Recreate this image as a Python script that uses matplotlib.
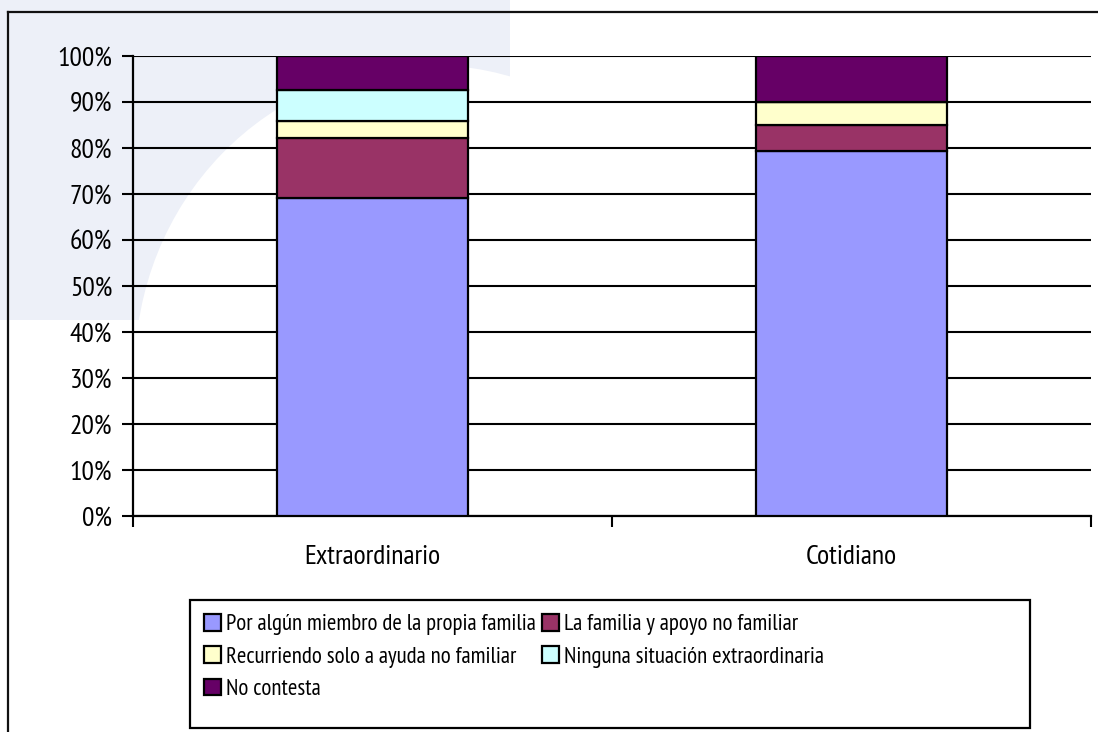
import matplotlib.pyplot as plt
import numpy as np
from matplotlib.patches import FancyBboxPatch, Ellipse, Rectangle
from matplotlib.lines import Line2D

plt.rcParams['font.family'] = ['PT Sans Narrow', 'Archivo Narrow', 'Liberation Sans', 'DejaVu Sans']

# Datos
categorias = ['Extraordinario', 'Cotidiano']
series = ['Por algún miembro de la propia familia',
          'La familia y apoyo no familiar',
          'Recurriendo solo a ayuda no familiar',
          'Ninguna situación extraordinaria',
          'No contesta']
propia_familia = [69.1, 79.3]
familia_y_apoyo = [13.0, 5.8]
solo_no_familiar = [3.7, 4.8]
ninguna = [6.8, 0.0]
no_contesta = [7.4, 10.1]
colores = ['#9999FF', '#993366', '#FFFFCC', '#CCFFFF', '#660066']
ticks_y = [0, 10, 20, 30, 40, 50, 60, 70, 80, 90, 100]

valores = [propia_familia, familia_y_apoyo, solo_no_familiar, ninguna, no_contesta]

W, H = 1098, 732
fig = plt.figure(figsize=(W / 100, H / 100), dpi=100)
fig.patch.set_facecolor('white')

# Conversion de pixeles a coordenadas de figura
def px(x, y):
    return x / W, 1 - y / H

# Marca de agua suave de fondo
tinte = '#EDF0F8'
fig.patches.append(FancyBboxPatch(px(-40, 320), 550 / W, 390 / H, boxstyle='round,pad=0,rounding_size=0.04',
                                  transform=fig.transFigure, facecolor=tinte, edgecolor='none', zorder=-10))
fig.patches.append(Ellipse(px(430, 370), 590 / W, 610 / H, transform=fig.transFigure,
                           facecolor='white', edgecolor='none', zorder=-9))

# Marco exterior (solo izquierda y arriba visibles)
fig.add_artist(Line2D([8 / W, 8 / W], [0, 1 - 12 / H], transform=fig.transFigure, color='#111111', lw=1.6))
fig.add_artist(Line2D([8 / W, 1], [1 - 12 / H, 1 - 12 / H], transform=fig.transFigure, color='#111111', lw=1.6))

ax = fig.add_axes([133 / W, 1 - 516 / H, (1091 - 133) / W, (516 - 56) / H])
ax.patch.set_alpha(0)

x = np.arange(len(categorias))
base = np.zeros(len(categorias))
handles = []
for nombre, vals, color in zip(series, valores, colores):
    b = ax.bar(x, vals, width=0.4, bottom=base, color=color, edgecolor='black', linewidth=1.6, label=nombre, zorder=3)
    handles.append(b)
    base += np.array(vals)

ax.set_xlim(-0.5, 1.5)
ax.set_ylim(0, 100)
ax.set_yticks(ticks_y)
ax.set_yticklabels([f'{t}%' for t in ticks_y])
ax.yaxis.grid(True, color='black', linewidth=1.5, zorder=0)
ax.set_axisbelow(True)

ax.set_xticks(x)
ax.set_xticklabels(categorias)
ax.set_xticks([-0.5, 0.5, 1.5], minor=True)
ax.tick_params(axis='x', which='major', length=0, pad=21, labelsize=20)
ax.tick_params(axis='x', which='minor', length=8, width=1.5, direction='out')
ax.tick_params(axis='y', length=8, width=1.5, direction='out', labelsize=20, pad=7)

for s in ['top', 'right']:
    ax.spines[s].set_visible(False)
ax.spines['left'].set_linewidth(1.6)
ax.spines['bottom'].set_linewidth(1.6)

# Marco de la leyenda
x0, y0 = px(190, 728)
fig.add_artist(Rectangle((x0, y0), (1030 - 190) / W, (728 - 600) / H, transform=fig.transFigure,
                         facecolor='white', edgecolor='black', lw=1.6, zorder=1))

# Leyenda en orden por filas
orden = [0, 2, 4, 1, 3]
leg = fig.legend([handles[i] for i in orden], [series[i] for i in orden],
                 loc='upper left', bbox_to_anchor=px(190, 600), ncol=2,
                 fontsize=16.5, frameon=False,
                 handlelength=0.75, handleheight=0.75, handletextpad=0.2, columnspacing=0.3,
                 labelspacing=0.48, borderpad=0.6, borderaxespad=0)
leg.set_zorder(2)

fig.savefig('out.png', dpi=100)
